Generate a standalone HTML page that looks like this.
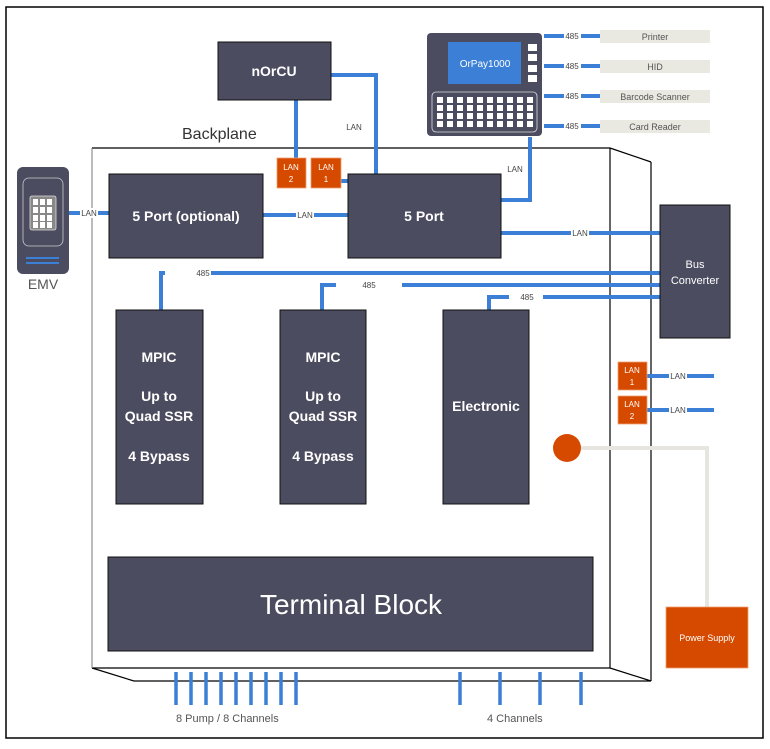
<!DOCTYPE html>
<html><head><meta charset="utf-8"><style>
html,body{margin:0;padding:0;background:#fff;}
svg{display:block;font-family:"Liberation Sans",sans-serif;}
</style></head><body>
<svg width="770" height="749" viewBox="0 0 770 749" xmlns="http://www.w3.org/2000/svg">
<rect x="6" y="7" width="757" height="731" fill="none" stroke="#000" stroke-width="1.5"/>
<!-- backplane -->
<g fill="none" stroke="#000" stroke-width="1.2">
<line x1="92" y1="148" x2="610" y2="148"/>
<line x1="610" y1="148" x2="610" y2="668"/>
<line x1="610" y1="148" x2="651" y2="162"/>
<line x1="651" y1="162" x2="651" y2="681"/>
<line x1="92" y1="668" x2="610" y2="668"/>
<line x1="610" y1="668" x2="651" y2="681"/>
<line x1="134" y1="681" x2="651" y2="681"/>
<line x1="92" y1="668" x2="134" y2="681"/>
</g>
<line x1="92" y1="148" x2="92" y2="668" stroke="#777" stroke-width="1"/>
<text x="182" y="139" font-size="16" fill="#333">Backplane</text>
<!-- blue connectors -->
<g stroke="#3b7fd6" stroke-width="4" fill="none">
<polyline points="331,75 376,75 376,174"/>
<line x1="296" y1="100" x2="296" y2="158"/>
<line x1="341" y1="181" x2="348" y2="181"/>
<line x1="263" y1="215" x2="348" y2="215"/>
<line x1="69" y1="213" x2="109" y2="213"/>
<polyline points="530,137 530,200 501,200"/>
<line x1="501" y1="233" x2="660" y2="233"/>
<polyline points="161,310 161,273 660,273"/>
<polyline points="322,310 322,285 660,285"/>
<polyline points="489,310 489,297 660,297"/>
<line x1="647" y1="376" x2="714" y2="376"/>
<line x1="647" y1="410" x2="714" y2="410"/>
<line x1="544" y1="36" x2="600" y2="36"/>
<line x1="544" y1="66" x2="600" y2="66"/>
<line x1="544" y1="96" x2="600" y2="96"/>
<line x1="544" y1="126" x2="600" y2="126"/>
</g>
<g stroke="#3b7fd6" stroke-width="3.5">
<line x1="176" y1="672" x2="176" y2="705"/><line x1="191" y1="672" x2="191" y2="705"/>
<line x1="206" y1="672" x2="206" y2="705"/><line x1="221" y1="672" x2="221" y2="705"/>
<line x1="236" y1="672" x2="236" y2="705"/><line x1="251" y1="672" x2="251" y2="705"/>
<line x1="266" y1="672" x2="266" y2="705"/><line x1="281" y1="672" x2="281" y2="705"/>
<line x1="296" y1="672" x2="296" y2="705"/>
<line x1="460" y1="672" x2="460" y2="705"/><line x1="500" y1="672" x2="500" y2="705"/>
<line x1="540" y1="672" x2="540" y2="705"/><line x1="581" y1="672" x2="581" y2="705"/>
</g>
<!-- small labels with white bg -->
<g font-size="8" fill="#444" text-anchor="middle">
<rect x="80" y="208" width="18" height="10" fill="#fff"/><text x="89" y="216">LAN</text>
<rect x="296" y="210" width="18" height="10" fill="#fff"/><text x="305" y="218">LAN</text>
<rect x="571" y="228" width="18" height="10" fill="#fff"/><text x="580" y="236">LAN</text>
<text x="354" y="130">LAN</text>
<text x="515" y="172">LAN</text>
<rect x="165" y="268" width="46" height="10" fill="#fff"/><text x="203" y="276">485</text>
<rect x="336" y="280" width="66" height="10" fill="#fff"/><text x="369" y="288">485</text>
<rect x="509" y="292" width="34" height="10" fill="#fff"/><text x="527" y="300">485</text>
<rect x="669" y="371" width="18" height="10" fill="#fff"/><text x="678" y="379">LAN</text>
<rect x="669" y="405" width="18" height="10" fill="#fff"/><text x="678" y="413">LAN</text>
<rect x="564" y="31" width="17" height="10" fill="#fff"/><text x="572" y="39">485</text>
<rect x="564" y="61" width="17" height="10" fill="#fff"/><text x="572" y="69">485</text>
<rect x="564" y="91" width="17" height="10" fill="#fff"/><text x="572" y="99">485</text>
<rect x="564" y="121" width="17" height="10" fill="#fff"/><text x="572" y="129">485</text>
</g>
<!-- peripheral boxes -->
<g fill="#e9e8e1" font-size="9" text-anchor="middle">
<rect x="600" y="30" width="110" height="13"/><rect x="600" y="60" width="110" height="13"/>
<rect x="600" y="90" width="110" height="13"/><rect x="600" y="120" width="110" height="13"/>
<text x="655" y="40" fill="#555">Printer</text><text x="655" y="70" fill="#555">HID</text>
<text x="655" y="100" fill="#555">Barcode Scanner</text><text x="655" y="130" fill="#555">Card Reader</text>
</g>
<!-- dark boxes -->
<g fill="#4b4c5f" stroke="#111" stroke-width="1">
<rect x="218" y="42" width="113" height="58"/>
<rect x="109" y="174" width="154" height="84"/>
<rect x="348" y="174" width="153" height="84"/>
<rect x="660" y="205" width="70" height="133"/>
<rect x="116" y="310" width="87" height="194"/>
<rect x="280" y="310" width="86" height="194"/>
<rect x="443" y="310" width="86" height="194"/>
<rect x="108" y="557" width="485" height="94"/>
</g>
<g fill="#fff" text-anchor="middle" font-weight="bold" font-size="14">
<text x="274" y="76">nOrCU</text>
<text x="186" y="221">5 Port (optional)</text>
<text x="424" y="221">5 Port</text>
<text x="159" y="362">MPIC</text><text x="159" y="401">Up to</text><text x="159" y="421">Quad SSR</text><text x="159" y="461">4 Bypass</text>
<text x="323" y="362">MPIC</text><text x="323" y="401">Up to</text><text x="323" y="421">Quad SSR</text><text x="323" y="461">4 Bypass</text>
<text x="486" y="411">Electronic</text>
</g>
<text x="695" y="268" fill="#fff" font-size="11" text-anchor="middle">Bus</text>
<text x="695" y="284" fill="#fff" font-size="11" text-anchor="middle">Converter</text>
<text x="351" y="614" fill="#fff" font-size="28" text-anchor="middle">Terminal Block</text>
<!-- orange LAN boxes -->
<g fill="#d64a00" stroke="#f0a070" stroke-width="0.8">
<rect x="277" y="158" width="29" height="30"/><rect x="311" y="158" width="30" height="30"/>
<rect x="618" y="362" width="29" height="28"/><rect x="618" y="396" width="29" height="28"/>
</g>
<g fill="#fff" font-size="8" text-anchor="middle">
<text x="291" y="170">LAN</text><text x="291" y="182">2</text>
<text x="326" y="170">LAN</text><text x="326" y="182">1</text>
<text x="632" y="373">LAN</text><text x="632" y="385">1</text>
<text x="632" y="407">LAN</text><text x="632" y="419">2</text>
</g>
<!-- power -->
<polyline points="581,448 707,448 707,607" fill="none" stroke="#e6e5df" stroke-width="4"/>
<circle cx="567" cy="448" r="14" fill="#d64a00"/>
<rect x="666" y="607" width="82" height="61" fill="#d64a00" stroke="#f0a070" stroke-width="0.8"/>
<text x="707" y="641" fill="#fff" font-size="9" text-anchor="middle">Power Supply</text>
<!-- OrPay -->
<rect x="427" y="33" width="115" height="103" rx="4" fill="#4b4c5f"/>
<rect x="448" y="42" width="73" height="42" fill="#3b7fd6"/>
<text x="485" y="67" fill="#fff" font-size="10" text-anchor="middle">OrPay1000</text>
<g fill="#fff"><rect x="528" y="44" width="9" height="7"/><rect x="528" y="54" width="9" height="7"/><rect x="528" y="65" width="9" height="7"/><rect x="528" y="75" width="9" height="7"/></g>
<rect x="432" y="92" width="105" height="40" rx="4" fill="none" stroke="#ddd" stroke-width="0.8"/>
<g fill="#fff" id="kp">
<rect x="437" y="97" width="6" height="6"/><rect x="447" y="97" width="6" height="6"/><rect x="457" y="97" width="6" height="6"/><rect x="467" y="97" width="6" height="6"/><rect x="477" y="97" width="6" height="6"/><rect x="487" y="97" width="6" height="6"/><rect x="497" y="97" width="6" height="6"/><rect x="507" y="97" width="6" height="6"/><rect x="517" y="97" width="6" height="6"/><rect x="527" y="97" width="6" height="6"/>
<rect x="437" y="105" width="6" height="6"/><rect x="447" y="105" width="6" height="6"/><rect x="457" y="105" width="6" height="6"/><rect x="467" y="105" width="6" height="6"/><rect x="477" y="105" width="6" height="6"/><rect x="487" y="105" width="6" height="6"/><rect x="497" y="105" width="6" height="6"/><rect x="507" y="105" width="6" height="6"/><rect x="517" y="105" width="6" height="6"/><rect x="527" y="105" width="6" height="6"/>
<rect x="437" y="113" width="6" height="6"/><rect x="447" y="113" width="6" height="6"/><rect x="457" y="113" width="6" height="6"/><rect x="467" y="113" width="6" height="6"/><rect x="477" y="113" width="6" height="6"/><rect x="487" y="113" width="6" height="6"/><rect x="497" y="113" width="6" height="6"/><rect x="507" y="113" width="6" height="6"/><rect x="517" y="113" width="6" height="6"/><rect x="527" y="113" width="6" height="6"/>
<rect x="437" y="121" width="6" height="6"/><rect x="447" y="121" width="6" height="6"/><rect x="457" y="121" width="6" height="6"/><rect x="467" y="121" width="6" height="6"/><rect x="477" y="121" width="6" height="6"/><rect x="487" y="121" width="6" height="6"/><rect x="497" y="121" width="6" height="6"/><rect x="507" y="121" width="6" height="6"/><rect x="517" y="121" width="6" height="6"/><rect x="527" y="121" width="6" height="6"/>
</g>
<!-- EMV -->
<rect x="17" y="167" width="52" height="107" rx="6" fill="#4b4c5f"/>
<rect x="23" y="178" width="40" height="68" rx="6" fill="none" stroke="#ccc" stroke-width="0.8"/>
<rect x="30" y="196" width="26" height="34" rx="2" fill="#888" stroke="#ddd" stroke-width="0.8"/>
<g fill="#fff">
<rect x="33" y="199" width="5" height="6"/><rect x="40" y="199" width="5" height="6"/><rect x="47" y="199" width="5" height="6"/>
<rect x="33" y="207" width="5" height="6"/><rect x="40" y="207" width="5" height="6"/><rect x="47" y="207" width="5" height="6"/>
<rect x="33" y="215" width="5" height="6"/><rect x="40" y="215" width="5" height="6"/><rect x="47" y="215" width="5" height="6"/>
<rect x="33" y="222" width="5" height="6"/><rect x="40" y="222" width="5" height="6"/><rect x="47" y="222" width="5" height="6"/>
</g>
<rect x="26" y="257" width="33" height="2" fill="#3b7fd6"/><rect x="26" y="262" width="33" height="2" fill="#3b7fd6"/>
<text x="43" y="289" font-size="14" fill="#555" text-anchor="middle">EMV</text>
<text x="176" y="722" font-size="11" fill="#555">8 Pump / 8 Channels</text>
<text x="487" y="722" font-size="11" fill="#555">4 Channels</text>
</svg>
</body></html>
